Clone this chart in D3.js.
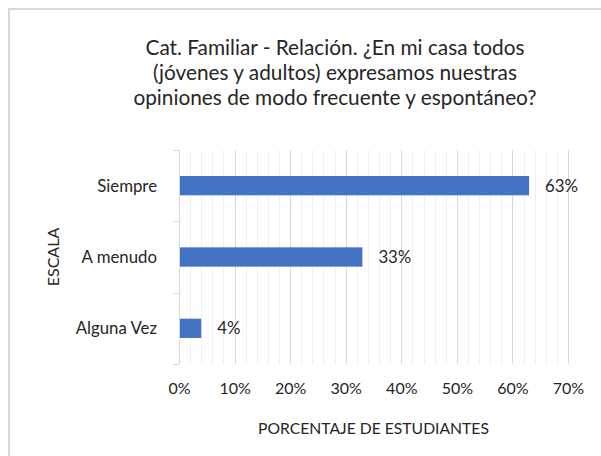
<!DOCTYPE html>
<html>
<head>
<meta charset="utf-8">
<script src="https://cdn.jsdelivr.net/npm/d3@7"></script>
<style>
  body { margin: 0; background: #fff; }
  svg { display: block; font-family: Lato, "Open Sans", sans-serif; }
</style>
</head>
<body>
<div id="chart"></div>
<script>
// data
var categories = ["Siempre", "A menudo", "Alguna Vez"];
var values = [0.63, 0.33, 0.04];
var xTicks = [0, 0.1, 0.2, 0.3, 0.4, 0.5, 0.6, 0.7];
var titleLines = ["Cat. Familiar - Relación. ¿En mi casa todos",
                  "(jóvenes y adultos) expresamos nuestras",
                  "opiniones de modo frecuente y espontáneo?"];

var W = 601, H = 456;
var plotLeft = 179, plotRight = 568, plotTop = 150, plotBottom = 364;
var textColor = "#262626";
var labelSize = "16.8px";

var svg = d3.select("#chart")
  .append("svg")
    .attr("width", W)
    .attr("height", H);

// chart area border (runs off the right and bottom edge)
svg.append("rect")
  .attr("x", 9).attr("y", 9)
  .attr("width", W + 40).attr("height", H + 40)
  .attr("fill", "#fff")
  .attr("stroke", "#d9d9d9")
  .attr("stroke-width", 2);

var x = d3.scaleLinear().domain([0, 0.7]).range([plotLeft, plotRight]);
var y = d3.scaleBand().domain(categories).range([plotTop, plotBottom]).padding(0);

// minor gridlines
svg.append("g")
  .selectAll("line")
  .data(x.ticks(35).filter(function(t) { return Math.round(t * 100) % 10 != 0; }))
  .enter().append("line")
    .attr("x1", function(d) { return Math.round(x(d)) + 0.5; })
    .attr("x2", function(d) { return Math.round(x(d)) + 0.5; })
    .attr("y1", plotTop).attr("y2", plotBottom)
    .attr("stroke", "#f0f0f0");

// major gridlines
svg.append("g")
  .selectAll("line")
  .data(xTicks.slice(1))
  .enter().append("line")
    .attr("x1", function(d) { return Math.round(x(d)) + 0.5; })
    .attr("x2", function(d) { return Math.round(x(d)) + 0.5; })
    .attr("y1", plotTop).attr("y2", plotBottom)
    .attr("stroke", "#d9d9d9");

// category axis line + boundary ticks
var catAxis = svg.append("g");
catAxis.append("line")
  .attr("x1", plotLeft + 0.5).attr("x2", plotLeft + 0.5)
  .attr("y1", plotTop).attr("y2", plotBottom)
  .attr("stroke", "#d9d9d9");
catAxis.selectAll(".bt")
  .data(categories.map(function(c) { return y(c); }).concat([plotBottom]))
  .enter().append("line")
    .attr("x1", plotLeft - 6).attr("x2", plotLeft)
    .attr("y1", function(d) { return Math.round(d) + 0.5; })
    .attr("y2", function(d) { return Math.round(d) + 0.5; })
    .attr("stroke", "#d9d9d9");

// category labels
svg.append("g")
  .selectAll("text")
  .data(categories)
  .enter().append("text")
    .attr("x", plotLeft - 22)
    .attr("y", function(d) { return y(d) + y.bandwidth() / 2; })
    .attr("dy", "0.35em")
    .attr("text-anchor", "end")
    .style("font-size", labelSize)
    .attr("fill", textColor)
    .text(function(d) { return d; });

// bars
var barH = y.bandwidth() / 3.7;
svg.selectAll(".bar")
  .data(categories)
  .enter().append("rect")
    .attr("class", "bar")
    .attr("x", x(0) + 1)
    .attr("y", function(d) { return y(d) + (y.bandwidth() - barH) / 2; })
    .attr("width", function(d, i) { return x(values[i]) - x(0) - 1; })
    .attr("height", barH)
    .attr("fill", "#4472c4");

// data labels
svg.selectAll(".lbl")
  .data(categories)
  .enter().append("text")
    .attr("x", function(d, i) { return x(values[i]) + 16; })
    .attr("y", function(d) { return y(d) + y.bandwidth() / 2; })
    .attr("dy", "0.35em")
    .style("font-size", labelSize)
    .attr("fill", textColor)
    .text(function(d, i) { return Math.round(values[i] * 100) + "%"; });

// value axis
var xAxis = svg.append("g")
  .attr("transform", "translate(0," + plotBottom + ")")
  .call(d3.axisBottom(x).tickValues(xTicks).tickSize(0).tickPadding(19)
          .tickFormat(d3.format(".0%")));
xAxis.select(".domain").remove();
xAxis.selectAll("text")
  .style("font-family", "Lato, 'Open Sans', sans-serif")
  .style("font-size", "16px")
  .attr("fill", textColor);

// axis titles
svg.append("text")
  .attr("x", (plotLeft + plotRight) / 2)
  .attr("y", 429)
  .attr("dy", "0.35em")
  .attr("text-anchor", "middle")
  .style("font-size", "15.7px")
  .attr("fill", textColor)
  .text("PORCENTAJE DE ESTUDIANTES");

svg.append("text")
  .attr("transform", "translate(53,257) rotate(-90)")
  .attr("dy", "0.35em")
  .attr("text-anchor", "middle")
  .style("font-size", "16px")
  .attr("fill", textColor)
  .text("ESCALA");

// title
svg.append("g")
  .selectAll("text")
  .data(titleLines)
  .enter().append("text")
    .attr("x", 335)
    .attr("y", function(d, i) { return 55 + i * 25; })
    .attr("text-anchor", "middle")
    .style("font-size", "20.8px")
    .attr("fill", textColor)
    .text(function(d) { return d; });
</script>
</body>
</html>
